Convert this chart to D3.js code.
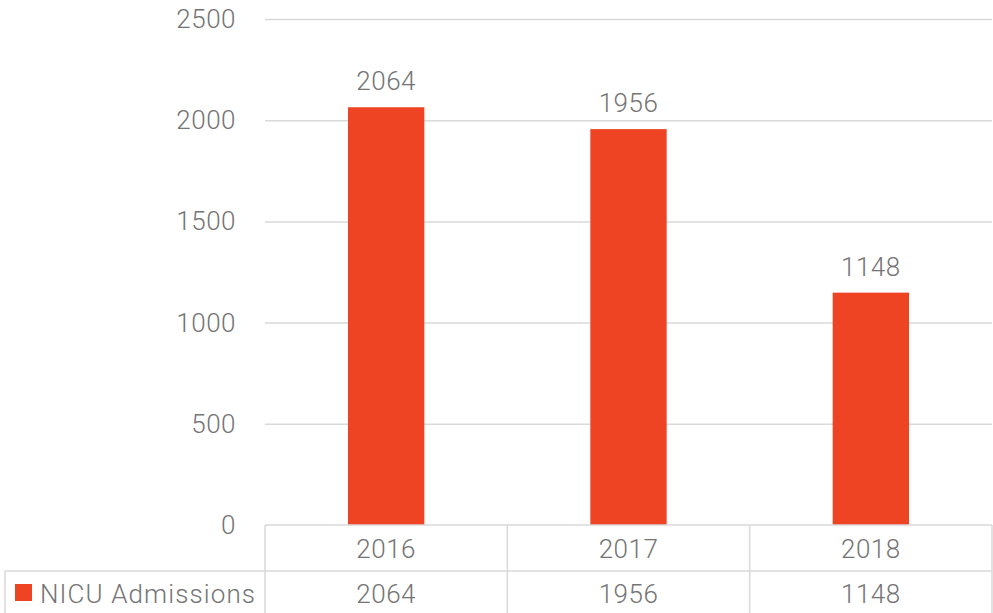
<!DOCTYPE html>
<html>
<head>
<meta charset="utf-8">
<script src="https://cdn.jsdelivr.net/npm/d3@7"></script>
<style>
  body { margin: 0; background: #fff; }
  text { font-family: Roboto, "DejaVu Sans", sans-serif; fill: #747474; font-weight: 300; }
</style>
</head>
<body>
<div id="chart"></div>
<script>
// Data
var years = ["2016", "2017", "2018"];
var admissions = [2064, 1956, 1148];
var seriesName = "NICU Admissions";
var yTicks = [0, 500, 1000, 1500, 2000, 2500];

var W = 993, H = 613;
var plot = {left: 265, right: 992, top: 19, bottom: 525};
var rowH = 46;

var svg = d3.select("#chart").append("svg")
    .attr("width", W)
    .attr("height", H);

// Scales
var x = d3.scaleBand()
    .domain(years)
    .range([plot.left, plot.right])
    .paddingInner(0)
    .paddingOuter(0);
var y = d3.scaleLinear()
    .domain([0, 2500])
    .range([plot.bottom, plot.top]);

var barW = x.bandwidth() * 0.315;

// Gridlines
svg.append("g").selectAll("line")
    .data(yTicks.filter(function(d) { return d > 0; }))
  .enter().append("line")
    .attr("x1", plot.left)
    .attr("x2", plot.right)
    .attr("y1", function(d) { return y(d) + 0.5; })
    .attr("y2", function(d) { return y(d) + 0.5; })
    .attr("stroke", "#d9d9d9")
    .attr("stroke-width", 1.5);

// Y axis labels
svg.append("g").selectAll("text")
    .data(yTicks)
  .enter().append("text")
    .attr("x", 236)
    .attr("y", function(d) { return y(d) + 9; })
    .attr("text-anchor", "end")
    .style("font-size", "26px")
    .style("letter-spacing", "0.5px")
    .text(function(d) { return d; });

// Bars
svg.append("g").selectAll("rect")
    .data(admissions)
  .enter().append("rect")
    .attr("x", function(d, i) { return x(years[i]) + x.bandwidth() / 2 - barW / 2; })
    .attr("width", barW)
    .attr("y", function(d) { return y(d); })
    .attr("height", function(d) { return y(0) - y(d); })
    .attr("fill", "#ee4423");

// Bar value labels
svg.append("g").selectAll("text")
    .data(admissions)
  .enter().append("text")
    .attr("x", function(d, i) { return x(years[i]) + x.bandwidth() / 2; })
    .attr("y", function(d) { return y(d) - 17; })
    .attr("text-anchor", "middle")
    .style("font-size", "26px")
    .style("letter-spacing", "0.5px")
    .text(function(d) { return d; });

// Data table
var grid = svg.append("g")
    .attr("stroke", "#d9d9d9")
    .attr("stroke-width", 1.5)
    .attr("fill", "none");

// horizontal lines
grid.append("line").attr("x1", plot.left).attr("x2", plot.right)
    .attr("y1", plot.bottom).attr("y2", plot.bottom);
grid.append("line").attr("x1", 5).attr("x2", plot.right)
    .attr("y1", plot.bottom + rowH).attr("y2", plot.bottom + rowH);
// verticals
var cols = years.map(function(d) { return x(d); }).concat([plot.right]);
grid.selectAll(".v")
    .data(cols)
  .enter().append("line")
    .attr("x1", function(d) { return d; })
    .attr("x2", function(d) { return d; })
    .attr("y1", plot.bottom)
    .attr("y2", H);
grid.append("line").attr("x1", 5).attr("x2", 5)
    .attr("y1", plot.bottom + rowH).attr("y2", H);

// category row
svg.append("g").selectAll("text")
    .data(years)
  .enter().append("text")
    .attr("x", function(d) { return x(d) + x.bandwidth() / 2; })
    .attr("y", plot.bottom + 33)
    .attr("text-anchor", "middle")
    .style("font-size", "26px")
    .style("letter-spacing", "0.5px")
    .text(function(d) { return d; });

// value row
svg.append("g").selectAll("text")
    .data(admissions)
  .enter().append("text")
    .attr("x", function(d, i) { return x(years[i]) + x.bandwidth() / 2; })
    .attr("y", plot.bottom + rowH + 32)
    .attr("text-anchor", "middle")
    .style("font-size", "26px")
    .style("letter-spacing", "0.5px")
    .text(function(d) { return d; });

// legend key
svg.append("rect")
    .attr("x", 15)
    .attr("y", 584)
    .attr("width", 17)
    .attr("height", 17)
    .attr("fill", "#ee4423");
svg.append("text")
    .attr("x", 40)
    .attr("y", plot.bottom + rowH + 32)
    .style("font-size", "26px")
    .style("letter-spacing", "1.1px")
    .text(seriesName);
</script>
</body>
</html>
